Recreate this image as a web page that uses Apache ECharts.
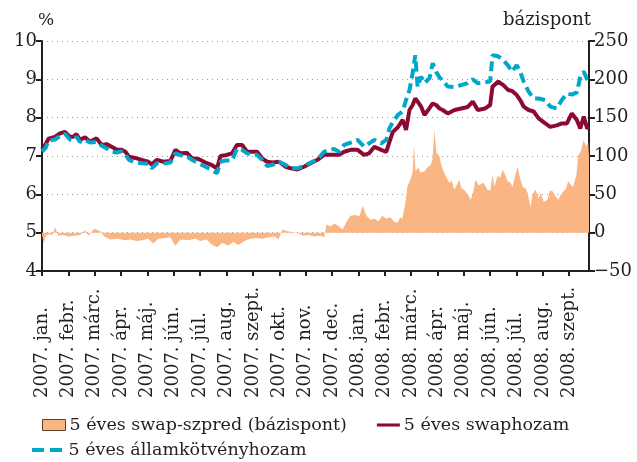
<!DOCTYPE html>
<html>
<head>
<meta charset="utf-8">
<script src="https://cdn.jsdelivr.net/npm/echarts@6/dist/echarts.min.js"></script>
<style>
    html, body { margin: 0; padding: 0; background: #ffffff; }
    #chart { width: 637px; height: 462px; }
</style>
</head>
<body>
<div id="chart"></div>
<script>
// months since 2007 jan (value axis), one label per month start
var monthLabels = ['2007. jan.', '2007. febr.', '2007. márc.', '2007. ápr.', '2007. máj.', '2007. jún.',
    '2007. júl.', '2007. aug.', '2007. szept.', '2007. okt.', '2007. nov.', '2007. dec.',
    '2008. jan.', '2008. febr.', '2008. márc.', '2008. ápr.', '2008. máj.', '2008. jún.',
    '2008. júl.', '2008. aug.', '2008. szept.'];

// yields (%), sampled at these month positions
var lineT = [0, 0.13, 0.25, 0.49, 0.68, 0.87, 1.06, 1.19, 1.31, 1.44, 1.63, 1.82, 2.07, 2.26, 2.45, 2.64, 2.83,
    3.02, 3.17, 3.30, 3.53, 3.78, 4.03, 4.16, 4.36, 4.61, 4.87, 5.06, 5.25, 5.50, 5.69, 5.94, 6.20, 6.45, 6.64,
    6.77, 6.96, 7.21, 7.40, 7.59, 7.78, 7.97, 8.16, 8.35, 8.54, 8.74, 8.99, 9.24, 9.43, 9.69, 9.94, 10.19, 10.45,
    10.70, 10.89, 11.08, 11.27, 11.46, 11.71, 11.97, 12.22, 12.41, 12.61, 12.87, 13.06, 13.18, 13.31, 13.50,
    13.68, 13.81, 13.94, 14.06, 14.16, 14.25, 14.38, 14.51, 14.70, 14.82, 14.95, 15.08, 15.20, 15.39, 15.65,
    15.90, 16.15, 16.34, 16.53, 16.81, 17.00, 17.09, 17.31, 17.50, 17.69, 17.82, 18.01, 18.14, 18.27, 18.46,
    18.65, 18.84, 19.09, 19.28, 19.53, 19.72, 19.91, 20.10, 20.29, 20.42, 20.55, 20.68, 20.75];
var swapYield = [7.18, 7.3, 7.45, 7.5, 7.59, 7.63, 7.5, 7.5, 7.57, 7.42, 7.49, 7.37, 7.46, 7.29, 7.31, 7.24, 7.17,
    7.16, 7.11, 6.98, 6.95, 6.9, 6.85, 6.78, 6.9, 6.85, 6.87, 7.16, 7.07, 7.08, 6.94, 6.92, 6.83, 6.76, 6.68,
    7.0, 7.02, 7.07, 7.29, 7.29, 7.11, 7.11, 7.11, 6.94, 6.85, 6.83, 6.85, 6.72, 6.68, 6.65, 6.72, 6.81, 6.9,
    7.03, 7.03, 7.03, 7.03, 7.11, 7.16, 7.16, 7.03, 7.07, 7.24, 7.16, 7.11, 7.37, 7.63, 7.75,
    7.94, 7.68, 8.2, 8.33, 8.5, 8.42, 8.29, 8.07, 8.25, 8.37, 8.33, 8.24, 8.2, 8.11, 8.2,
    8.24, 8.28, 8.42, 8.2, 8.24, 8.33, 8.81, 8.94, 8.85, 8.72, 8.7, 8.59, 8.46, 8.29, 8.2,
    8.16, 7.98, 7.85, 7.76, 7.8, 7.85, 7.85, 8.11, 7.94, 7.72, 8.03, 7.72, 7.75];
var bondYield = [7.12, 7.2, 7.4, 7.43, 7.52, 7.58, 7.43, 7.4, 7.5, 7.37, 7.42, 7.35, 7.37, 7.27, 7.2, 7.11, 7.09,
    7.12, 7.03, 6.9, 6.83, 6.81, 6.8, 6.68, 6.81, 6.8, 6.83, 7.07, 7.02, 6.99, 6.9, 6.81, 6.72, 6.63, 6.55,
    6.85, 6.88, 6.88, 7.2, 7.16, 7.07, 7.03, 7.03, 6.9, 6.74, 6.77, 6.85, 6.77, 6.68, 6.68, 6.74, 6.83, 6.91,
    7.11, 7.16, 7.18, 7.11, 7.29, 7.35, 7.42, 7.24, 7.33, 7.42, 7.33, 7.42, 7.72, 7.89, 8.07,
    8.16, 8.46, 8.72, 9.16, 9.63, 8.8, 9.07, 8.9, 9.03, 9.42, 9.2, 9.05, 8.98, 8.81, 8.8,
    8.85, 8.9, 9.0, 8.9, 8.92, 8.95, 9.63, 9.6, 9.5, 9.35, 9.2, 9.37, 9.2, 8.94, 8.68,
    8.5, 8.5, 8.46, 8.29, 8.24, 8.46, 8.63, 8.6, 8.66, 9.07, 9.2, 9.0, 8.95];

// swap spread (basis points)
var spreadT = [0, 0.07, 0.13, 0.25, 0.39, 0.50, 0.62, 0.81, 1.00, 1.26, 1.45, 1.64, 1.76, 1.98, 2.21, 2.36, 2.59,
    2.90, 3.12, 3.35, 3.58, 3.81, 4.03, 4.22, 4.41, 4.68, 4.87, 5.06, 5.25, 5.55, 5.82, 6.01, 6.24, 6.46, 6.65,
    6.84, 7.07, 7.26, 7.45, 7.68, 7.90, 8.13, 8.36, 8.59, 8.82, 8.97, 9.12, 9.31, 9.50, 9.69, 9.88, 10.11, 10.33,
    10.56, 10.71, 10.79, 10.94, 11.09, 11.24, 11.40, 11.55, 11.70, 11.89, 12.04, 12.16, 12.31, 12.46, 12.61,
    12.76, 12.91, 13.06, 13.21, 13.37, 13.48, 13.59, 13.67, 13.79, 13.86, 13.98, 14.06, 14.11, 14.17, 14.28,
    14.36, 14.51, 14.62, 14.74, 14.81, 14.89, 14.96, 15.07, 15.15, 15.25, 15.34, 15.45, 15.54, 15.64, 15.73,
    15.83, 15.91, 16.01, 16.14, 16.27, 16.37, 16.44, 16.56, 16.63, 16.75, 16.90, 17.01, 17.09, 17.16, 17.28,
    17.39, 17.47, 17.58, 17.66, 17.77, 17.85, 17.92, 18.04, 18.11, 18.23, 18.34, 18.42, 18.53, 18.61, 18.72,
    18.84, 18.92, 19.03, 19.18, 19.26, 19.37, 19.47, 19.58, 19.69, 19.76, 19.88, 19.96, 20.07, 20.15, 20.27,
    20.34, 20.46, 20.54, 20.62, 20.65, 20.72, 20.75];
var spread = [-3, -14, -5, -2, -3, 7, -4, -3, -5, -4, -3, 3, -4, 5, 2, -5, -9,
    -8, -10, -9, -11, -10, -8, -14, -8, -7, -6, -17, -9, -10, -8, -11, -9, -16, -19,
    -13, -17, -12, -16, -11, -8, -7, -8, -6, -5, -9, 4, 2, 1, 0, -4, -3, -5,
    -4, -6, 11, 8, 12, 9, 4, 14, 22, 23, 21, 35, 22, 17, 18,
    15, 22, 18, 20, 14, 13, 20, 18, 40, 60, 70, 78, 115, 80, 85,
    78, 80, 85, 88, 95, 134, 105, 100, 88, 78, 72, 65, 68, 56, 62,
    69, 58, 56, 50, 43, 55, 69, 62, 60, 65, 56, 55, 76, 60, 74,
    72, 82, 75, 67, 65, 60, 70, 86, 75, 60, 58, 52, 33, 50, 56,
    45, 52, 40, 43, 55, 54, 48, 43, 50, 52, 58, 67, 62, 60, 75,
    100, 108, 121, 115, 112, 118, 100];

function zip(t, v) {
    return t.map(function (x, i) { return [x, v[i]]; });
}

var font = '"DejaVu Serif", "Liberation Serif", serif';
var ink = '#231f20';

var chart = echarts.init(document.getElementById('chart'));
chart.setOption({
    animation: false,
    grid: { left: 42, right: 48, top: 41, bottom: 191 },
    legend: [
        {
            left: 42, top: 416, padding: 0, itemGap: 30, itemWidth: 23, itemHeight: 11,
            textStyle: { fontFamily: font, fontSize: 17.5, color: ink, padding: [0, 0, 0, -1] },
            data: [
                { name: '5 éves swap-szpred (bázispont)', icon: 'rect',
                  itemStyle: { color: '#fbb583', borderColor: '#5a3f2c', borderWidth: 1 } },
                { name: '5 éves swaphozam', icon: 'path://M0,0 H30 V4 H0 Z', itemWidth: 30, itemHeight: 4,
                  itemStyle: { color: '#8c0a32' } }
            ]
        },
        {
            left: 32, top: 441, padding: 0, itemWidth: 31, itemHeight: 4,
            textStyle: { fontFamily: font, fontSize: 17.5, color: ink, padding: [0, 0, 0, 1] },
            data: [
                { name: '5 éves államkötvényhozam', icon: 'path://M0,0 H12 V4 H0 Z M18,0 H30 V4 H18 Z',
                  itemStyle: { color: '#00a7cc' } }
            ]
        }
    ],
    xAxis: {
        type: 'value',
        min: 0,
        max: 20.75,
        interval: 1,
        axisLine: { onZero: false, lineStyle: { color: ink, width: 2 } },
        axisTick: { length: 5, lineStyle: { color: ink, width: 2 } },
        splitLine: { show: false },
        axisLabel: {
            rotate: 90,
            align: 'left',
            verticalAlign: 'middle',
            margin: 127,
            showMaxLabel: false,
            fontFamily: font,
            fontSize: 18,
            color: ink,
            formatter: function (v) {
                return v === Math.round(v) ? (monthLabels[v] || '') : '';
            }
        }
    },
    yAxis: [
        {
            type: 'value',
            min: 4,
            max: 10,
            interval: 1,
            name: '%',
            nameGap: 12,
            nameTextStyle: { fontFamily: font, fontSize: 17, color: ink, align: 'left', padding: [0, 0, 0, -4] },
            axisLine: { show: true, lineStyle: { color: ink, width: 2 } },
            axisTick: { show: true, length: 6, lineStyle: { color: ink, width: 2 } },
            axisLabel: { fontFamily: font, fontSize: 18, color: ink, margin: 5 },
            splitLine: { lineStyle: { color: '#9a9a9a', type: [1, 4], width: 1 } }
        },
        {
            type: 'value',
            min: -50,
            max: 250,
            interval: 50,
            name: 'bázispont',
            nameGap: 12,
            nameTextStyle: { fontFamily: font, fontSize: 18, color: ink, align: 'right', padding: [0, -2, 0, 0] },
            axisLine: { show: true, lineStyle: { color: ink, width: 2 } },
            axisTick: { show: true, length: 6, lineStyle: { color: ink, width: 2 } },
            axisLabel: {
                fontFamily: font, fontSize: 18, color: ink, margin: 5,
                formatter: function (v) { return v < 0 ? '\u2212' + Math.abs(v) : String(v); }
            },
            splitLine: { show: false }
        }
    ],
    series: [
        {
            name: '5 éves swap-szpred (bázispont)',
            type: 'line',
            yAxisIndex: 1,
            data: zip(spreadT, spread),
            symbol: 'none',
            lineStyle: { width: 0 },
            itemStyle: { color: '#fbb583' },
            areaStyle: { color: '#fbb583', opacity: 1 },
            z: 1
        },
        {
            name: '5 éves swaphozam',
            type: 'line',
            data: zip(lineT, swapYield),
            symbol: 'none',
            lineStyle: { color: '#8c0a32', width: 4 },
            itemStyle: { color: '#8c0a32' },
            z: 2
        },
        {
            name: '5 éves államkötvényhozam',
            type: 'line',
            data: zip(lineT, bondYield),
            symbol: 'none',
            lineStyle: { color: '#00a7cc', width: 4, type: [10, 5] },
            itemStyle: { color: '#00a7cc' },
            z: 3
        }
    ]
});
</script>
</body>
</html>
